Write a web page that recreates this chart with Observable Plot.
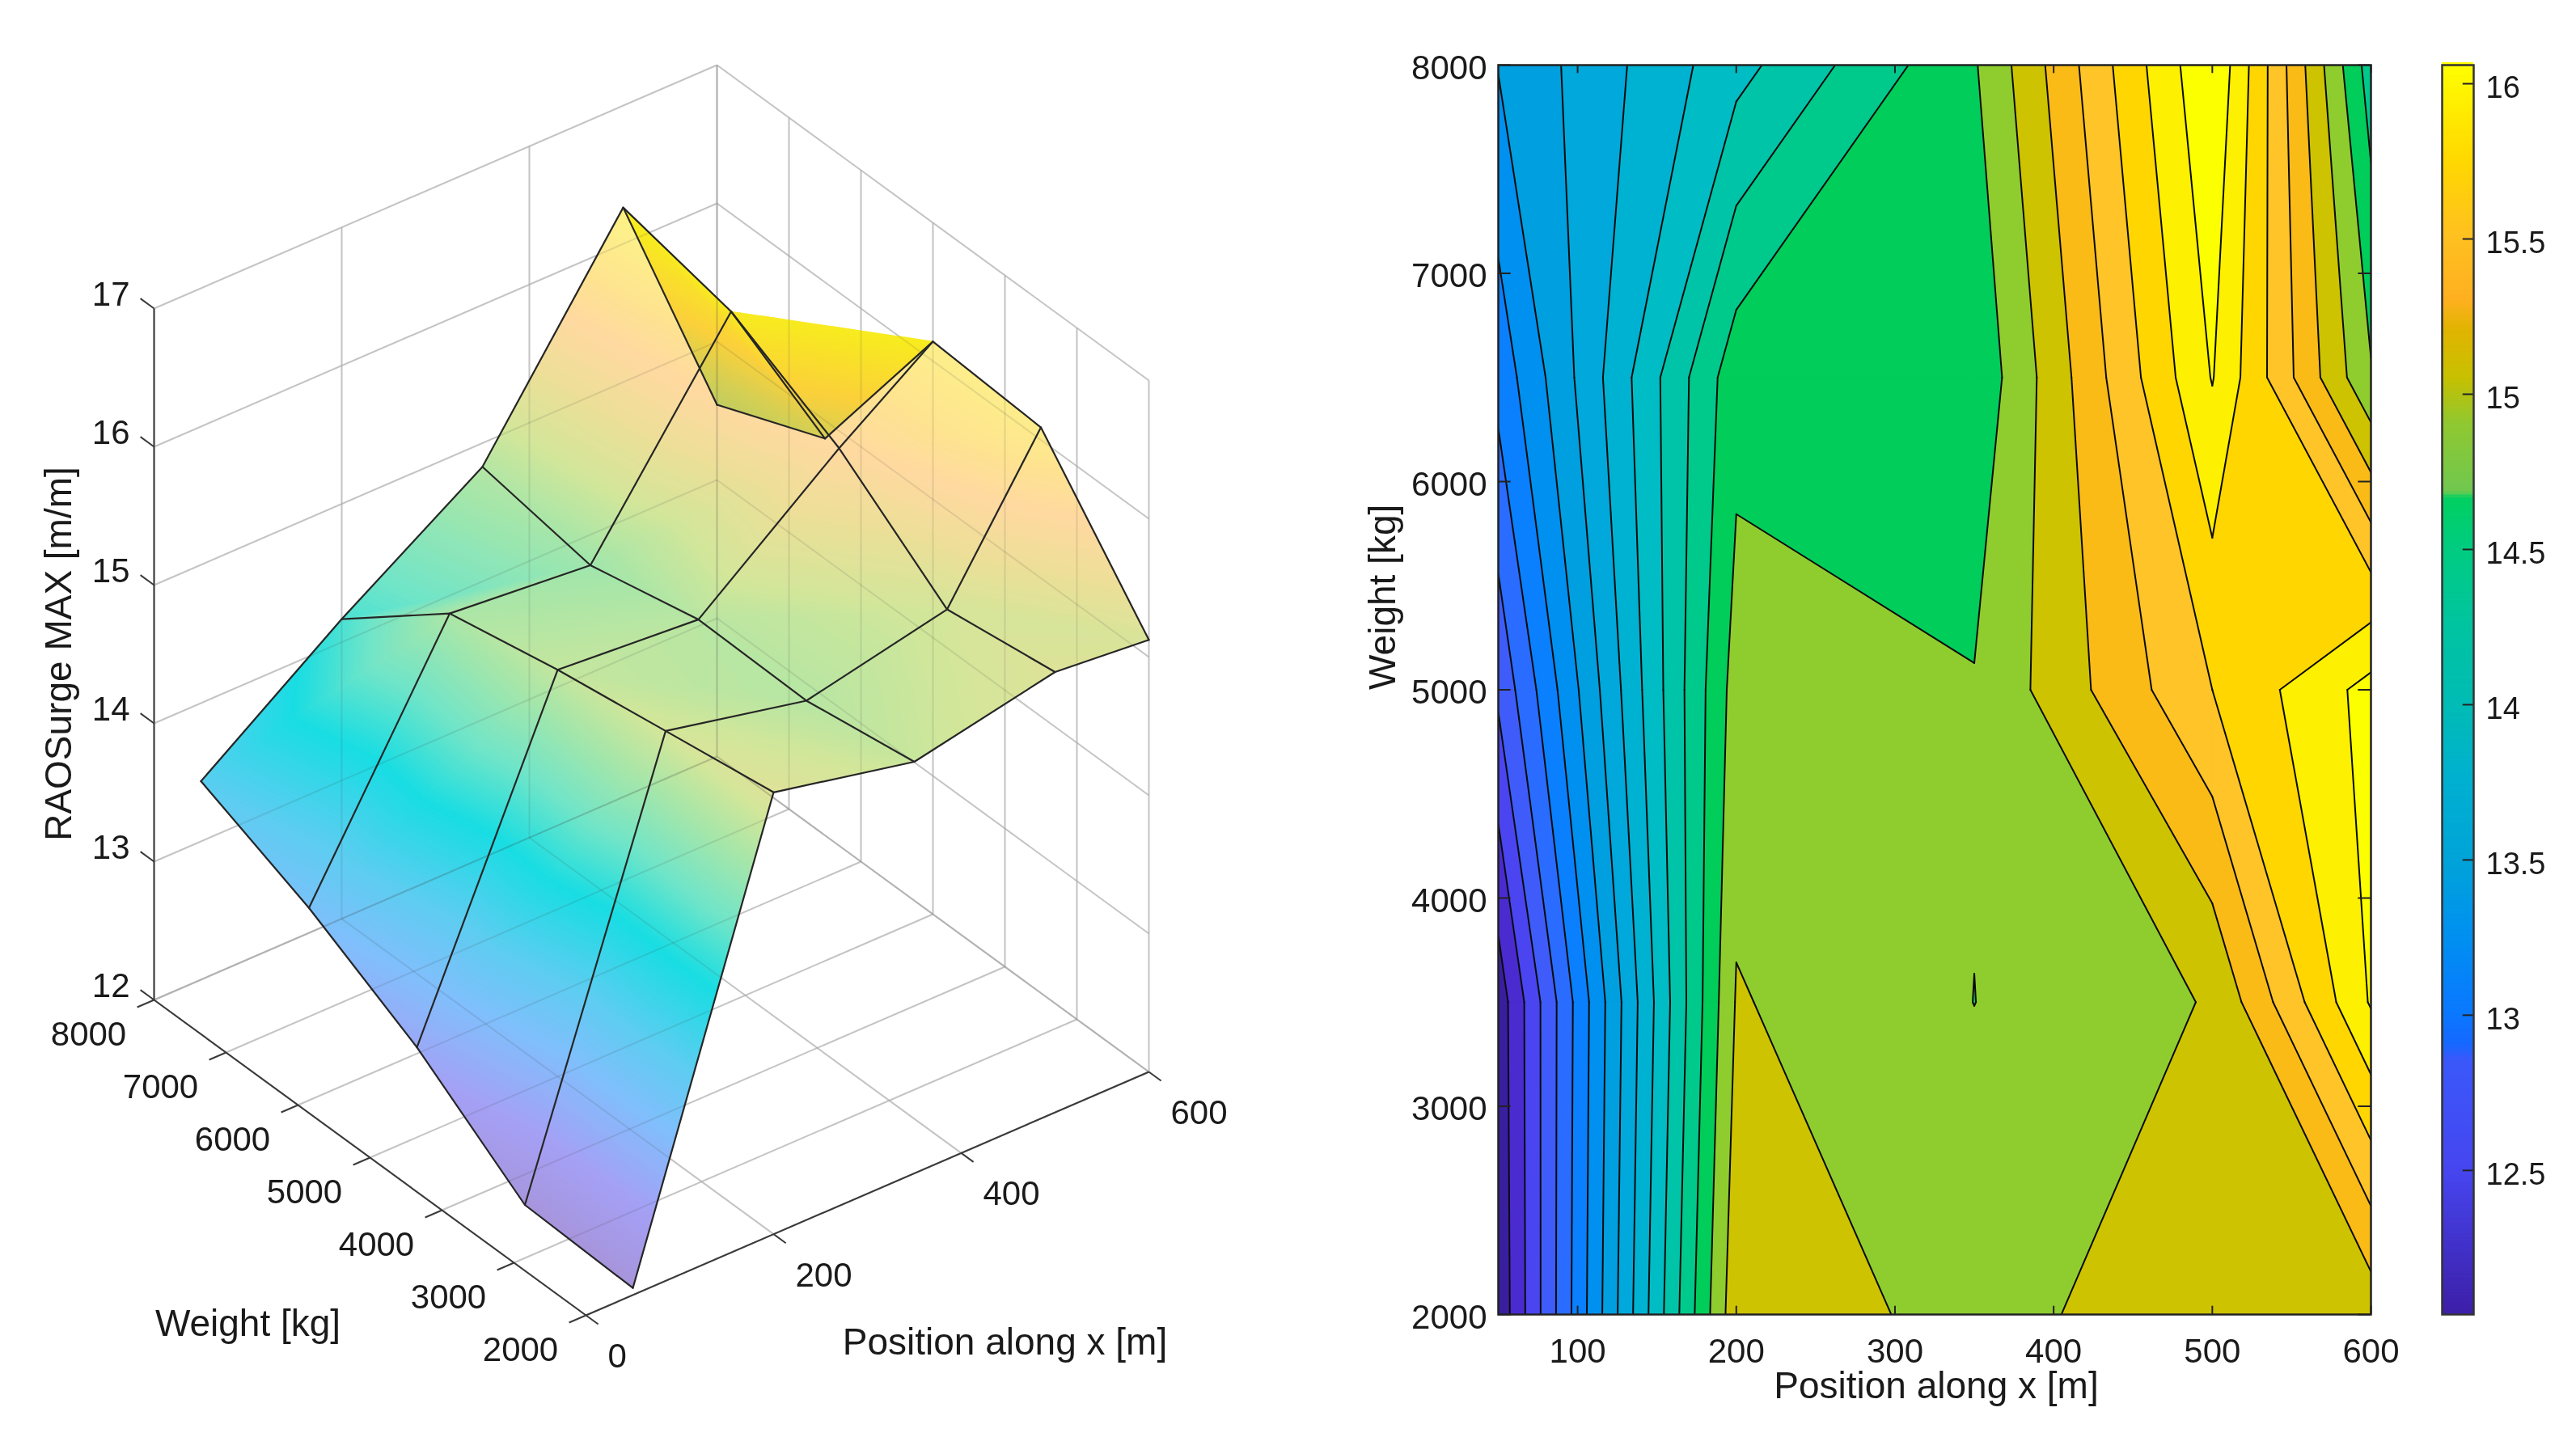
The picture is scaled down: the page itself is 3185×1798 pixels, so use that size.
<!DOCTYPE html>
<html>
<head>
<meta charset="utf-8">
<script src="https://cdn.jsdelivr.net/npm/d3@7"></script>
<script src="https://cdn.jsdelivr.net/npm/@observablehq/plot@0.6"></script>
<style>
html,body{margin:0;padding:0;background:#fff;}
#page{display:flex;flex-direction:row;width:3185px;height:1798px;overflow:hidden;filter:blur(0.6px);}
#page svg{display:block;flex:none;}
</style>
</head>
<body>
<div id="page"></div>
<script>
// ---------- data ----------
const positions = [50, 200, 350, 500, 600];
const weights = [2000, 3500, 5000, 6500, 8000];
const raoW2000 = [12.05, 15.14, 14.925, 15.13, 15.07];
const raoW3500 = [12.08, 15.016, 14.7985, 15.015, 16.02];
const raoW5000 = [12.64, 14.89, 14.815, 15.60, 16.07];
const raoW6500 = [13.07, 14.73, 14.64, 16.011, 14.82];
const raoW8000 = [13.41, 14.13, 14.78, 16.19, 14.50];
const raoGrid = [raoW2000, raoW3500, raoW5000, raoW6500, raoW8000];

const contourLevels = [12.0,12.2,12.4,12.6,12.8,13.0,13.2,13.4,13.6,13.8,14.0,14.2,14.4,14.6,14.8,15.0,15.2,15.4,15.6,15.8,16.0];
const contourColors = ["#3a1ea0","#4a2bd0","#4a45f0","#3f5cfa","#2a6cff","#0a80ff","#0090f0","#009fe0","#00a8dc","#00b2d2","#00bcc4","#00c4a8","#00c98c","#00cd5a","#8fcd2f","#cdc300","#fbbb17","#fec428","#ffd600","#fdf000","#fbff00"];

const colorbarStops = [12.036,12.5,12.85,12.9,13,13.25,13.5,13.75,14,14.25,14.5,14.66,14.68,14.9,15.05,15.2,15.3,15.5,15.75,16.06];
const colorbarColors = ["#3d1fa8","#4646f0","#3a58fa","#1668ff","#0a78ff","#0090f0","#00a4d8","#00b0d0","#00bcb4","#00c4a0","#00cc80","#00d060","#70c850","#90c830","#c8c000","#e0b400","#ffb020","#ffc020","#ffd800","#ffff00"];

const surfaceStops = [12.05,12.5,13,13.4,13.9,14.3,14.7,15,15.3,15.6,15.85,16.1,16.25];
const surfaceColors = ["#a795db","#a5a0f5","#80bffc","#5ccdf0","#18dde3","#70e5c8","#a8e6a8","#d3e69a","#ecdf98","#ffd9a0","#fee48f","#fdf08a","#fbf07a"];
const undersideStops = [14.5,14.8,15.3,16,16.2];
const undersideColors = ["#c0cd60","#d4cf55","#fbd03a","#f8ea20","#f8f020"];

const zTicks = [12,13,14,15,16,17];
const weightTicks = [2000,3000,4000,5000,6000,7000,8000];
const positionTicks3d = [0,200,400,600];
const positionTicks = [100,200,300,400,500,600];
const weightTicks2d = [2000,3000,4000,5000,6000,7000,8000];
const colorbarTicks = [12.5,13,13.5,14,14.5,15,15.5,16];

// ---------- shared styling ----------
const FONT = "'Liberation Sans', Arial, sans-serif";
const INK = "#1a1a1a";
const baseStyle = {fontFamily: FONT, fontSize: "42px", background: "transparent", overflow: "visible"};

// ---------- 3D view ----------
const floorPoint = (x, w) => [190 + x / 600 * 696 + (8000 - w) / 6000 * 534,
                              1236 - x / 600 * 301 + (8000 - w) / 6000 * 390];
const wallPoint = (x, w, z) => { const p = floorPoint(x, w); return [p[0], p[1] - (z - 12) * 171]; };
const surfacePoint = (x, w, z) => { const p = floorPoint(x, w); return [p[0], p[1] - (z - 12) * 174]; };
const seg = (a, b) => ({x1: a[0], y1: a[1], x2: b[0], y2: b[1]});

const gridSegs = [];
for (const x of positionTicks3d) {
  gridSegs.push(seg(wallPoint(x, 2000, 12), wallPoint(x, 8000, 12)));
  gridSegs.push(seg(wallPoint(x, 8000, 12), wallPoint(x, 8000, 17)));
}
for (const w of weightTicks) {
  gridSegs.push(seg(wallPoint(0, w, 12), wallPoint(600, w, 12)));
  gridSegs.push(seg(wallPoint(600, w, 12), wallPoint(600, w, 17)));
}
for (const z of zTicks) {
  gridSegs.push(seg(wallPoint(0, 8000, z), wallPoint(600, 8000, z)));
  gridSegs.push(seg(wallPoint(600, 8000, z), wallPoint(600, 2000, z)));
}

const surfaceScale = d3.scaleLinear(surfaceStops, surfaceColors).clamp(true);
const undersideScale = d3.scaleLinear(undersideStops, undersideColors).clamp(true);

// Interpolated shading: every facet (two triangles per data cell, as the renderer splits them)
// is cut into thin slices by height so each slice takes its colour from the colormap.
const SHADE_STEP = 0.02;
const lerpV = (a, b, t) => ({x: a.x + (b.x-a.x)*t, w: a.w + (b.w-a.w)*t, z: a.z + (b.z-a.z)*t});
function clipZ(poly, level, keepAbove) {
  const out = [];
  poly.forEach((a, k) => {
    const b = poly[(k+1) % poly.length];
    const ina = keepAbove ? a.z >= level : a.z <= level;
    const inb = keepAbove ? b.z >= level : b.z <= level;
    if (ina) out.push(a);
    if (ina !== inb) out.push(lerpV(a, b, (level - a.z) / (b.z - a.z)));
  });
  return out;
}
const frontCells = [], backCells = [];
let polyId = 0;
const toScreen = v => surfacePoint(v.x, v.w, v.z);
const floorSign = Math.sign(d3.polygonArea([floorPoint(0,2000),floorPoint(600,2000),floorPoint(600,8000),floorPoint(0,8000)]));
function shadeFacet(tri) {
  const back = Math.sign(d3.polygonArea(tri.map(toScreen))) !== floorSign;
  const zs = tri.map(v => v.z);
  const lo = Math.floor(d3.min(zs) / SHADE_STEP), hi = Math.ceil(d3.max(zs) / SHADE_STEP);
  for (let n = lo; n < hi; n++) {
    const a = n * SHADE_STEP, b = (n + 1) * SHADE_STEP;
    const piece = clipZ(clipZ(tri, a, true), b + 0.004, false);
    if (piece.length < 3) continue;
    const mid = (a + b) / 2;
    const color = back ? undersideScale(mid) : surfaceScale(mid);
    const id = polyId++;
    const out = back ? backCells : frontCells;
    for (const v of piece) { const q = toScreen(v); out.push({id, px: q[0], py: q[1], color}); }
  }
}
for (let i = positions.length - 2; i >= 0; i--) {
  for (let j = weights.length - 2; j >= 0; j--) {
    const v00 = {x: positions[i], w: weights[j], z: raoGrid[j][i]};
    const v10 = {x: positions[i+1], w: weights[j], z: raoGrid[j][i+1]};
    const v01 = {x: positions[i], w: weights[j+1], z: raoGrid[j+1][i]};
    const v11 = {x: positions[i+1], w: weights[j+1], z: raoGrid[j+1][i+1]};
    shadeFacet([v11, v01, v10]);
    shadeFacet([v00, v10, v01]);
  }
}

// mesh edge lines
const meshLines = [];
positions.forEach((x, i) => weights.forEach((w, j) => {
  const p = surfacePoint(x, w, raoGrid[j][i]);
  meshLines.push({line: "c" + i, px: p[0], py: p[1], o: j});
}));
weights.forEach((w, j) => positions.forEach((x, i) => {
  const p = surfacePoint(x, w, raoGrid[j][i]);
  meshLines.push({line: "r" + j, px: p[0], py: p[1], o: i});
}));

// axes
const axisSegs = [
  seg(wallPoint(0, 8000, 12), wallPoint(0, 8000, 17)),
  seg(wallPoint(0, 8000, 12), wallPoint(0, 2000, 12)),
  seg(wallPoint(0, 2000, 12), wallPoint(600, 2000, 12)),
  ...zTicks.map(z => seg(wallPoint(0, 8000, z), wallPoint(0, 8190, z))),
  ...weightTicks.map(w => seg(wallPoint(0, w, 12), wallPoint(-18, w, 12))),
  ...positionTicks3d.map(x => seg(wallPoint(x, 2000, 12), wallPoint(x, 1830, 12)))
];

const zLabels = zTicks.map(z => { const p = wallPoint(0, 8190, z); return {px: p[0], py: p[1], t: String(z)}; });
const wLabels = weightTicks.map(w => { const p = floorPoint(0, w); return {px: p[0], py: p[1], t: String(w)}; });
const xLabels = positionTicks3d.map(x => { const p = floorPoint(x, 2000); return {px: p[0], py: p[1], t: String(x)}; });

const leftW = 1640, H = 1798;
const left = Plot.plot({
  width: leftW, height: H, margin: 0,
  x: {domain: [0, leftW], range: [0, leftW], axis: null},
  y: {domain: [0, H], range: [0, H], axis: null},
  color: {type: "identity"},
  style: baseStyle,
  marks: [
    Plot.link(gridSegs, {x1: "x1", y1: "y1", x2: "x2", y2: "y2", stroke: "#d8d8d8", strokeWidth: 2}),
    Plot.line(frontCells, {x: "px", y: "py", z: "id", fill: "color", stroke: "color", strokeWidth: 0.8, curve: "linear-closed"}),
    Plot.line(backCells, {x: "px", y: "py", z: "id", fill: "color", stroke: "color", strokeWidth: 0.8, curve: "linear-closed"}),
    Plot.link(gridSegs, {x1: "x1", y1: "y1", x2: "x2", y2: "y2", stroke: "#404040", strokeOpacity: 0.13, strokeWidth: 2}),
    Plot.line(meshLines, {x: "px", y: "py", z: "line", sort: "o", stroke: "#262626", strokeWidth: 2.2, strokeLinejoin: "round"}),
    Plot.link(axisSegs, {x1: "x1", y1: "y1", x2: "x2", y2: "y2", stroke: "#3a3a3a", strokeWidth: 2}),
    Plot.text(zLabels, {x: "px", y: "py", text: "t", textAnchor: "end", dx: -13, dy: -5, fontSize: 42, fill: INK}),
    Plot.text(wLabels, {x: "px", y: "py", text: "t", textAnchor: "middle", dx: -81, dy: 43, fontSize: 42, fill: INK}),
    Plot.text(xLabels, {x: "px", y: "py", text: "t", textAnchor: "start", dx: 27, dy: 51, fontSize: 42, fill: INK}),
    Plot.text(["Weight [kg]"], {x: () => floorPoint(0, 2000)[0], y: () => floorPoint(0, 2000)[1], text: d => d, dx: -418, dy: 11, textAnchor: "middle", fontSize: 46, fill: INK}),
    Plot.text(["Position along x [m]"], {x: () => floorPoint(0, 2000)[0], y: () => floorPoint(0, 2000)[1], text: d => d, dx: 518, dy: 34, textAnchor: "middle", fontSize: 46, fill: INK}),
    Plot.text(["RAOSurge MAX [m/m]"], {x: () => floorPoint(0, 8000)[0], y: () => floorPoint(0, 8000)[1], text: d => d, dx: -117, dy: -428, rotate: -90, textAnchor: "middle", fontSize: 46, fill: INK})
  ]
});

// ---------- filled contour ----------
const bandCells = [];
const contourSegs = [];
let bandId = 0;
const addBand = (pts, color) => { const id = bandId++; for (const q of pts) bandCells.push({id, x: q.x, w: q.w, color}); };
const addSeg = (a, b) => contourSegs.push({x1: a.x, y1: a.w, x2: b.x, y2: b.w});
contourLevels.forEach((level, li) => {
  for (let j = 0; j < weights.length - 1; j++) {
    for (let i = 0; i < positions.length - 1; i++) {
      const corners = [
        {x: positions[i], w: weights[j], z: raoGrid[j][i]},
        {x: positions[i+1], w: weights[j], z: raoGrid[j][i+1]},
        {x: positions[i+1], w: weights[j+1], z: raoGrid[j+1][i+1]},
        {x: positions[i], w: weights[j+1], z: raoGrid[j+1][i]}
      ];
      const cross = (a, b) => { const t = (level - a.z) / (b.z - a.z); return {x: a.x + (b.x-a.x)*t, w: a.w + (b.w-a.w)*t}; };
      const high = corners.map(c => c.z >= level);
      const nHigh = high.filter(Boolean).length;
      if (nHigh === 2 && high[0] === high[2]) {
        // saddle: the two high corners stay apart
        corners.forEach((c, k) => {
          if (!high[k]) return;
          const prev = corners[(k+3) % 4], next = corners[(k+1) % 4];
          const p = cross(prev, c), n = cross(c, next);
          addBand([p, c, n], contourColors[li]);
          if (li > 0) addSeg(p, n);
        });
        continue;
      }
      const poly = [], crossings = [];
      for (let k = 0; k < 4; k++) {
        const a = corners[k], b = corners[(k+1) % 4];
        if (a.z >= level) poly.push(a);
        if ((a.z >= level) !== (b.z >= level)) {
          const c = cross(a, b);
          poly.push(c);
          crossings.push(c);
        }
      }
      if (poly.length > 2) addBand(poly, contourColors[li]);
      if (li > 0 && crossings.length === 2) addSeg(crossings[0], crossings[1]);
    }
  }
});

const midW = 1350;
const middle = Plot.plot({
  width: midW, height: H,
  marginLeft: 212, marginRight: 59, marginTop: 80, marginBottom: 173,
  x: {domain: [50, 600]},
  y: {domain: [2000, 8000]},
  color: {type: "identity"},
  style: baseStyle,
  marks: [
    Plot.line(bandCells, {x: "x", y: "w", z: "id", fill: "color", stroke: "color", strokeWidth: 1, curve: "linear-closed", clip: true}),
    Plot.link(contourSegs, {x1: "x1", y1: "y1", x2: "x2", y2: "y2", stroke: "#0a0a0a", strokeWidth: 2, strokeLinecap: "round", clip: true}),
    Plot.ruleX(positionTicks, {x: d => d, y1: 2000, y2: 2040, stroke: "#222", strokeWidth: 2}),
    Plot.ruleX(positionTicks, {x: d => d, y1: 8000, y2: 7960, stroke: "#222", strokeWidth: 2}),
    Plot.ruleY(weightTicks2d, {y: d => d, x1: 50, x2: 58, stroke: "#222", strokeWidth: 2}),
    Plot.ruleY(weightTicks2d, {y: d => d, x1: 600, x2: 592, stroke: "#222", strokeWidth: 2}),
    Plot.frame({stroke: "#222", strokeWidth: 2.5}),
    Plot.axisX({ticks: positionTicks, tickFormat: "d", tickSize: 0, tickPadding: 30, fontSize: 42, color: INK, label: null}),
    Plot.axisY({ticks: weightTicks2d, tickFormat: "d", tickSize: 0, tickPadding: 14, dy: 4, fontSize: 42, color: INK, label: null}),
    Plot.text(["Position along x [m]"], {frameAnchor: "bottom", text: d => d, dx: 2, dy: 103, fontSize: 46, fill: INK}),
    Plot.text(["Weight [kg]"], {frameAnchor: "left", text: d => d, dx: -142, rotate: -90, fontSize: 46, fill: INK})
  ]
});

// ---------- colour bar ----------
const colorbarScale = d3.scaleLinear(colorbarStops, colorbarColors).clamp(true);
const colorbarSteps = d3.range(12.036, 16.06, 0.01);
const barW = 195;
const bar = Plot.plot({
  width: barW, height: H,
  marginLeft: 29, marginRight: 127, marginTop: 80, marginBottom: 173,
  x: {domain: [0, 1], axis: null},
  y: {domain: [12.036, 16.06]},
  color: {type: "identity"},
  style: baseStyle,
  marks: [
    Plot.rect(colorbarSteps, {x1: 0, x2: 1, y1: d => d, y2: d => d + 0.012, fill: d => colorbarScale(d)}),
    Plot.ruleY(colorbarTicks, {y: d => d, x1: 0.66, x2: 1, stroke: "#222", strokeWidth: 2}),
    Plot.frame({stroke: "#333", strokeWidth: 2.5}),
    Plot.axisY({anchor: "right", ticks: colorbarTicks, tickFormat: d => String(d), tickSize: 0, tickPadding: 15, dy: 5, fontSize: 38, color: INK, label: null})
  ]
});

const page = document.getElementById("page");
page.append(left, middle, bar);
</script>
</body>
</html>
